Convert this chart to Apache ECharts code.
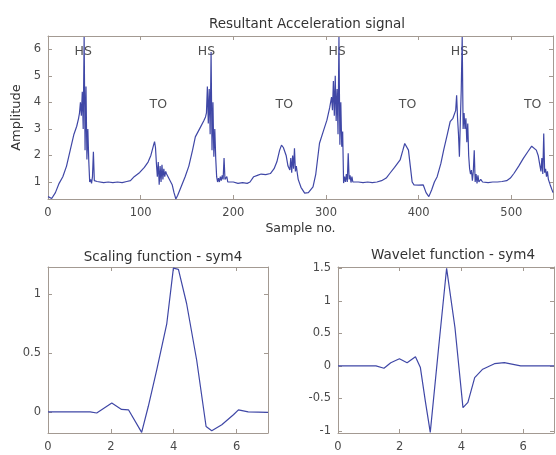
<!DOCTYPE html>
<html>
<head>
<meta charset="utf-8">
<script src="https://cdn.jsdelivr.net/npm/echarts@6/dist/echarts.min.js"></script>
<style>html,body{margin:0;padding:0;background:#fff}#c{width:556px;height:455px}</style>
</head>
<body>
<div id="c"></div>
<script>
// ---- Data ----
const sampleNo = [0,4,8,12,16,20,24,28,31,33,34,35,36,37,38,39,40,41,42,43,44,45,46,47,48,49,50,51,53,55,60,65,70,75,80,85,89,93,99,104,108,111,114,115,116,117,118,119,120,121,122,123,124,125,126,127,128,130,134,136,138,140,144,148,152,156,159,164,168,170,171,172,173,174,175,176,177,178,179,180,181,182,183,184,185,186,187,188,189,190,191,192,193,194,196,200,205,210,215,218,222,226,230,235,240,244,247,250,252,254,257,259,261,262,263,264,265,266,267,268,269,270,273,277,281,286,289,293,297,301,304,306,307,308,309,310,311,312,313,314,315,316,317,318,319,320,321,322,323,324,325,326,327,328,329,331,335,340,345,350,355,360,365,369,374,380,383,385,387,389,391,393,395,400,405,408,411,414,417,420,424,427,431,434,437,439,440,441,442,443,444,445,446,447,448,449,450,451,452,453,454,455,456,457,458,459,460,461,462,463,464,465,467,469,475,480,485,490,495,499,503,508,513,518,522,524,527,529,531,532,533,534,535,536,537,538,539,540,542,545];
const amplitude = [0.45,0.38,0.6,0.95,1.2,1.6,2.2,2.8,3.1,3.4,3.6,4.0,3.5,4.4,3.0,6.46,2.2,4.6,1.85,3.0,1.8,1.0,1.1,0.95,1.2,2.14,1.05,0.98,1.02,1.0,0.98,1.0,0.98,1.0,0.98,1.02,1.05,1.2,1.36,1.55,1.75,2.0,2.4,2.52,2.3,1.7,1.2,1.75,0.9,1.6,1.0,1.65,1.1,1.5,1.2,1.4,1.3,1.35,0.9,0.6,0.36,0.5,0.85,1.2,1.6,2.2,2.7,3.03,3.3,3.45,3.6,4.6,3.2,4.5,2.8,5.9,2.2,4.0,1.95,3.0,1.9,1.2,1.0,1.15,1.0,1.2,1.05,1.25,1.1,1.9,1.1,1.05,1.2,1.0,1.0,1.0,0.95,0.98,0.95,1.0,1.2,1.25,1.3,1.28,1.32,1.5,1.76,2.2,2.39,2.3,2.0,1.6,1.45,1.9,1.35,2.0,1.5,2.27,1.4,1.6,1.34,1.1,0.8,0.58,0.6,0.82,1.3,2.46,2.9,3.33,3.8,4.2,3.7,4.8,3.5,5.0,3.3,4.5,2.8,6.46,2.4,4.0,2.33,2.9,0.96,1.2,1.0,1.3,1.0,2.08,1.1,1.25,0.98,1.2,1.0,1.05,1.0,0.98,1.0,0.98,1.0,1.05,1.15,1.33,1.55,1.83,2.2,2.45,2.4,2.2,1.6,1.0,0.89,0.88,0.89,0.6,0.45,0.7,1.0,1.2,1.7,2.2,2.8,3.27,3.4,3.45,3.7,4.27,3.4,2.8,1.95,3.3,4.5,6.46,3.0,3.6,3.0,3.4,2.5,3.2,2.0,1.5,1.3,1.45,1.05,1.4,2.2,1.0,1.3,0.95,1.25,1.0,1.1,1.0,0.98,1.0,1.0,1.02,1.05,1.15,1.33,1.6,1.89,2.15,2.35,2.39,2.2,2.0,1.6,1.4,1.9,1.3,2.83,1.35,1.5,1.2,1.4,1.1,0.89,0.6];
const eventLabels = ['HS','TO','HS','TO','HS','TO','HS','TO'];
const eventSample = [38,119,171,255,312,388,444,523];
const eventAmp = [5.9,3.9,5.9,3.9,5.9,3.9,5.9,3.9];

const phiX = [0,1.34,1.55,2.03,2.34,2.56,2.98,3.19,3.46,3.78,3.99,4.15,4.41,4.73,5.03,5.21,5.53,5.9,6.06,6.37,7];
const phiY = [0,0,-0.01,0.074,0.02,0.017,-0.175,0.045,0.356,0.75,1.22,1.21,0.92,0.44,-0.125,-0.16,-0.11,-0.025,0.017,0,-0.005];
const psiX = [0,1.23,1.49,1.71,1.99,2.24,2.51,2.67,2.83,2.99,3.25,3.52,3.79,4.05,4.21,4.43,4.69,5.07,5.39,5.92,7];
const psiY = [0,0,-0.035,0.05,0.11,0.05,0.14,-0.025,-0.54,-1.02,0.23,1.5,0.59,-0.64,-0.56,-0.18,-0.05,0.035,0.05,0,0];

const topXTicks = [0,100,200,300,400,500];
const topYTicks = [1,2,3,4,5,6];
const botXTicks = [0,2,4,6];
const phiYTicks = [0,0.5,1];
const psiYTicks = [-1,-0.5,0,0.5,1,1.5];

// ---- Chart ----
const FONT = 'DejaVu Sans, sans-serif';
const AX = '#a39a92';
const LBL = '#4a4a4a';
const LINE = '#3f47a6';

function zip(a,b){return a.map((v,i)=>[v,b[i]]);}

function xAx(gi,min,max,ticks,show,name){
  return {type:'value',gridIndex:gi,min:min,max:max,position:show?'bottom':'top',
    name:name||'',nameLocation:'middle',nameGap:23,
    nameTextStyle:{color:'#333',fontSize:12.5,fontFamily:FONT},
    axisLine:{show:true,onZero:false,lineStyle:{color:AX,width:1}},
    axisTick:{show:true,inside:true,length:4,customValues:ticks,lineStyle:{color:AX}},
    axisLabel:{show:show,customValues:ticks,color:LBL,fontSize:11.5,fontFamily:FONT,margin:8},
    splitLine:{show:false}};
}
function yAx(gi,min,max,ticks,show,name){
  return {type:'value',gridIndex:gi,min:min,max:max,position:show?'left':'right',
    name:name||'',nameLocation:'middle',nameGap:19,nameRotate:90,
    nameTextStyle:{color:'#333',fontSize:13,fontFamily:FONT},
    axisLine:{show:true,onZero:false,lineStyle:{color:AX,width:1}},
    axisTick:{show:true,inside:true,length:4,customValues:ticks,lineStyle:{color:AX}},
    axisLabel:{show:show,customValues:ticks,color:LBL,fontSize:11.5,fontFamily:FONT,margin:7},
    splitLine:{show:false}};
}

const chart = echarts.init(document.getElementById('c'),null,{renderer:'canvas'});
chart.setOption({
  animation:false,
  backgroundColor:'#fff',
  title:[
    {text:'Resultant Acceleration signal',left:302,top:12,textAlign:'center',textStyle:{fontSize:13.5,fontWeight:'normal',color:'#333',fontFamily:FONT}},
    {text:'Scaling function - sym4',left:158,top:245,textAlign:'center',textStyle:{fontSize:13.5,fontWeight:'normal',color:'#333',fontFamily:FONT}},
    {text:'Wavelet function - sym4',left:448,top:243,textAlign:'center',textStyle:{fontSize:13.5,fontWeight:'normal',color:'#333',fontFamily:FONT}}
  ],
  grid:[
    {left:48,top:36,width:505,height:163},
    {left:48,top:267,width:220,height:166},
    {left:338,top:267,width:216,height:166}
  ],
  xAxis:[
    xAx(0,0,545,topXTicks,true,'Sample no.'),
    xAx(0,0,545,topXTicks,false),
    xAx(1,0,7,botXTicks,true),
    xAx(1,0,7,botXTicks,false),
    xAx(2,0,7,botXTicks,true),
    xAx(2,0,7,botXTicks,false)
  ],
  yAxis:[
    yAx(0,0.36,6.5,topYTicks,true,'Amplitude'),
    yAx(0,0.36,6.5,topYTicks,false),
    yAx(1,-0.18,1.23,phiYTicks,true),
    yAx(1,-0.18,1.23,phiYTicks,false),
    yAx(2,-1.03,1.52,psiYTicks,true),
    yAx(2,-1.03,1.52,psiYTicks,false)
  ],
  series:[
    {type:'line',xAxisIndex:0,yAxisIndex:0,data:zip(sampleNo,amplitude),showSymbol:false,symbol:'none',lineStyle:{color:LINE,width:1.2},clip:true},
    {type:'scatter',xAxisIndex:0,yAxisIndex:0,symbolSize:0,silent:true,
      data:eventSample.map((s,i)=>[s,eventAmp[i],eventLabels[i]]),
      label:{show:true,position:'inside',formatter:p=>p.data[2],color:'#222',fontSize:12.5,fontFamily:FONT}},
    {type:'line',xAxisIndex:2,yAxisIndex:2,data:zip(phiX,phiY),showSymbol:false,symbol:'none',lineStyle:{color:LINE,width:1.2}},
    {type:'line',xAxisIndex:4,yAxisIndex:4,data:zip(psiX,psiY),showSymbol:false,symbol:'none',lineStyle:{color:LINE,width:1.2}}
  ]
});
</script>
</body>
</html>
